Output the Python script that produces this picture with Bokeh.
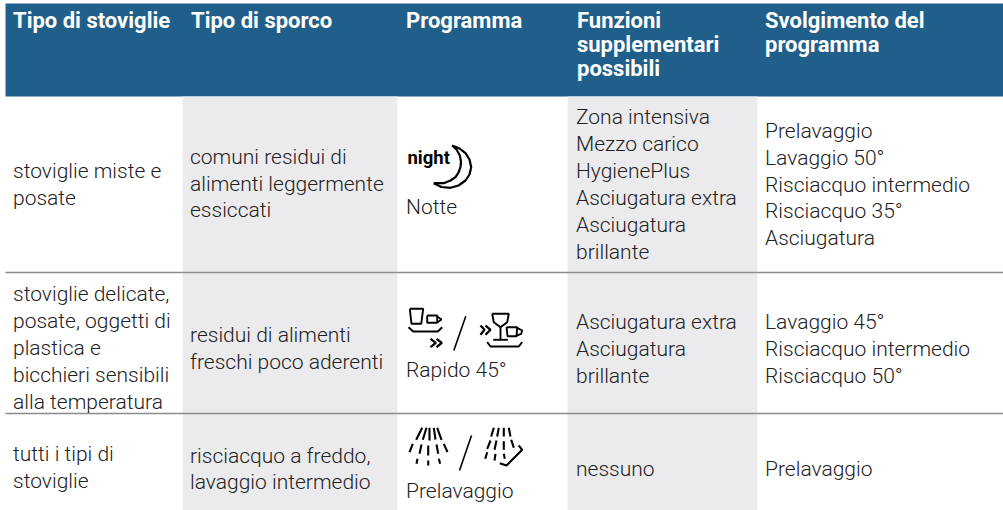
from bokeh.plotting import figure
from bokeh.models import Range1d
from bokeh.embed import file_html
from bokeh.resources import INLINE
from bokeh.core.properties import value

W, H = 1003, 510
FONT = "Roboto Light, Roboto"
FONTB = "Roboto"

headers = [(12.5, 20, "Tipo di stoviglie"), (190.5, 20, "Tipo di sporco"), (405.5, 20, "Programma"),
           (576.5, 20, "Funzioni"), (576.5, 44, "supplementari"), (576.5, 68, "possibili"),
           (764.5, 20, "Svolgimento del"), (764.5, 44, "programma")]
body = [
    (12.5, 170, "stoviglie miste e"), (12.5, 197, "posate"),
    (189.5, 156, "comuni residui di"), (189.5, 183, "alimenti leggermente"), (189.5, 209, "essiccati"),
    (405.5, 206, "Notte"),
    (575.5, 116, "Zona intensiva"), (575.5, 143, "Mezzo carico"), (575.5, 170, "HygienePlus"),
    (575.5, 197, "Asciugatura extra"), (575.5, 224, "Asciugatura"), (575.5, 251, "brillante"),
    (764.5, 130, "Prelavaggio"), (764.5, 157, "Lavaggio 50°"), (764.5, 184, "Risciacquo intermedio"),
    (764.5, 210, "Risciacquo 35°"), (764.5, 237, "Asciugatura"),
    (12.5, 293, "stoviglie delicate,"), (12.5, 320, "posate, oggetti di"), (12.5, 347, "plastica e"),
    (12.5, 374, "bicchieri sensibili"), (12.5, 401, "alla temperatura"),
    (189.5, 334, "residui di alimenti"), (189.5, 361, "freschi poco aderenti"),
    (405.5, 369, "Rapido 45°"),
    (575.5, 321, "Asciugatura extra"), (575.5, 348, "Asciugatura"), (575.5, 375, "brillante"),
    (764.5, 321, "Lavaggio 45°"), (764.5, 348, "Risciacquo intermedio"), (764.5, 375, "Risciacquo 50°"),
    (12.5, 453, "tutti i tipi di"), (12.5, 480, "stoviglie"),
    (189.5, 455, "risciacquo a freddo,"), (189.5, 481, "lavaggio intermedio"),
    (405.5, 490, "Prelavaggio"), (575.5, 468, "nessuno"), (764.5, 468, "Prelavaggio"),
]

p = figure(width=W, height=H, x_range=Range1d(0, W), y_range=Range1d(H, 0),
           output_backend="svg", toolbar_location=None, min_border=0,
           outline_line_color=None, background_fill_color="white")
p.axis.visible = False
p.grid.visible = False

p.quad(left=[5], right=[1003], top=[3], bottom=[96], fill_color="#215F8B", line_color=None)
p.quad(left=[182, 567], right=[397, 757], top=[96, 96], bottom=[510, 510],
       fill_color="#EBEBED", line_color=None)
p.multi_line([[5, 1003], [5, 1003]], [[272, 272], [413, 413]], line_color="#8C8C8C", line_width=1.5)

p.text([h[0] for h in headers], [h[1] for h in headers], [h[2] for h in headers],
       text_font=value(FONTB), text_font_size="22px", text_font_style="bold",
       text_color="white", text_baseline="middle")
p.text([b[0] for b in body], [b[1] for b in body], [b[2] for b in body],
       text_font=value(FONT), text_font_size="21px", text_color="#222222", text_baseline="middle")

INK = "#000000"
p.text([407], [157], ["night"], text_font=value(FONTB), text_font_size="18.5px", text_font_style="bold",
       text_color=INK, text_baseline="middle")
p.line([451.7, 459, 465, 469, 470.7, 469, 465, 458, 450, 441, 433.3],
       [145, 148, 152.7, 159, 166.7, 174, 180, 185, 187.3, 186.5, 182.7], line_color=INK, line_width=2.2)
p.line([451.7, 456, 459.3, 460.5, 460, 458, 455, 450, 443.3, 433.3],
       [145, 149, 155, 161, 166.7, 172, 176.7, 180, 182.7, 182.7], line_color=INK, line_width=2.2)

# Rapido icons
p.multi_line([[409.3, 411, 420.7, 422.7, 409.3],
              [426.7, 426.7, 436.7, 436.7, 426.7],
              [436.7, 441, 436.7],
              [408, 412.7, 437.3, 441.7],
              [491.7, 493.3, 500, 506.7, 508.3, 491.7],
              [500, 500], [492.7, 507.3],
              [506, 507, 516, 516.7, 506],
              [516.7, 521.7, 520.7, 516.3],
              [486.7, 490, 518.3, 521.7]],
             [[308.3, 323.3, 323.3, 308.3, 308.3],
              [315, 322.3, 322.3, 315, 315],
              [316, 319, 322],
              [326.7, 331, 331, 326.7],
              [313.3, 321.7, 326.7, 321.7, 313.3, 313.3],
              [326.7, 339.3], [339.3, 339.3],
              [326.7, 335.7, 335.7, 326.7, 326.7],
              [327.3, 330, 333.3, 335],
              [341.7, 346, 346, 341.7]], line_color=INK, line_width=1.9)
p.multi_line([[430, 435.3, 430], [436, 441.3, 436], [480, 484, 480], [485, 490, 485]],
             [[338.3, 342.3, 346.7], [338.3, 342.3, 346.7], [325, 329.3, 334.3], [325, 329.3, 334.3]],
             line_color=INK, line_width=2.3)
p.line([465.3, 453.3], [315.7, 350], line_color=INK, line_width=1.6)

# Prelavaggio icons
p.multi_line([[421.7, 415.7], [426, 422.3], [429, 429], [433.3, 435], [436.7, 441],
              [412.3, 409], [421, 419], [427.7, 427.7], [436, 437.7], [443.3, 447],
              [417, 416], [427.7, 427.7], [438.3, 439.7]],
             [[427.3, 439.3], [427.3, 439.3], [427.3, 440], [427.3, 439], [427.3, 439.3],
              [443.3, 451.7], [444, 453.3], [445, 455], [444, 453.3], [443.3, 451.7],
              [458.3, 463.3], [460, 465], [458.3, 463.3]], line_color=INK, line_width=2.1)
p.line([471, 459], [435, 470], line_color=INK, line_width=1.6)
p.multi_line([[493.3, 490.7], [498.3, 496.7], [503.3, 503.3], [508.3, 510],
              [490, 486.7], [496, 494], [503.3, 503.3], [510.7, 513.3],
              [486.7, 484.7], [495, 494], [503.3, 504.3],
              [499.3, 506, 521.7, 518.3]],
             [[427.3, 436], [427.3, 436], [427.3, 436], [427.3, 436],
              [440, 448.3], [440, 449.3], [440.7, 449.3], [439.3, 447.3],
              [451.7, 458.3], [453.3, 460], [453.3, 458.3],
              [462.7, 465, 449.3, 445]], line_color=INK, line_width=2.1)

open("out.html", "w").write(file_html(p, INLINE))
